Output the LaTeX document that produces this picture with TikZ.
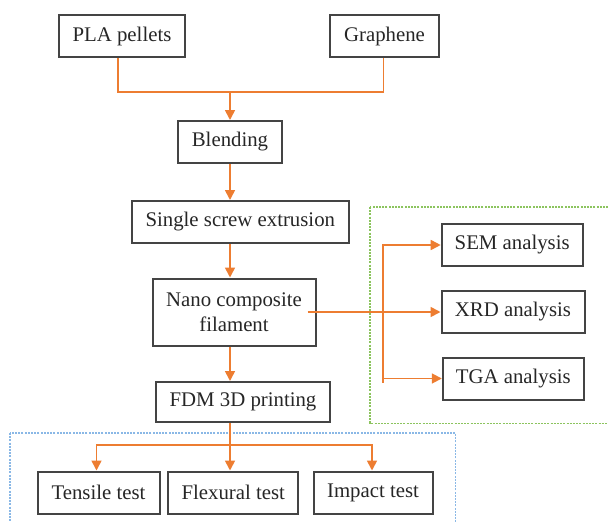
\documentclass[tikz,border=0pt]{standalone}
\usepackage{fontspec}
\setmainfont{Liberation Serif}
\usetikzlibrary{arrows.meta,calc}
\definecolor{flowor}{HTML}{ED7D31}
\definecolor{boxgr}{HTML}{444444}
\definecolor{grnframe}{HTML}{8CC45E}
\definecolor{bluframe}{HTML}{8AB8E6}
\begin{document}
\begin{tikzpicture}[x=1pt,y=-1pt,
    blk/.style={draw=boxgr,line width=2pt,inner sep=0pt,minimum height=42pt,
      font=\fontsize{20.8}{25}\selectfont,text=black!85},
    flow/.style={draw=flowor,line width=1.7pt},
    arr/.style={-{Triangle[length=10pt,width=10pt]}},
    frame/.style={line width=1.2pt,dash pattern=on 2pt off 1.2pt}]
  \useasboundingbox (0,0) rectangle (608,522);
  \clip (0,0) rectangle (608,522);
  % dotted frames
  \draw[frame,grnframe] (370,207) rectangle (620,423.3);
  \draw[frame,bluframe] (10,433) rectangle (455.7,530);
  % process boxes
  \node[blk,minimum width=126pt] (pla) at (122,36) {PLA pellets};
  \node[blk,minimum width=109pt] (gra) at (384.5,36) {Graphene};
  \node[blk,minimum width=104pt] (blend) at (230,142) {Blending};
  \node[blk,minimum width=217pt] (sse) at (240.3,222) {Single screw extrusion};
  \node[blk,minimum width=163pt,minimum height=67pt,align=center] (ncf) at (234,312) {Nano composite\\filament};
  \node[blk,minimum width=174pt,minimum height=40pt] (fdm) at (243,402) {FDM 3D printing};
  \node[blk,minimum width=141pt] (sem) at (512.2,245) {SEM analysis};
  \node[blk,minimum width=143pt] (xrd) at (513,312) {XRD analysis};
  \node[blk,minimum width=141pt] (tga) at (513.3,378.5) {TGA analysis};
  \node[blk,minimum width=122pt] (ten) at (98.5,492.5) {Tensile test};
  \node[blk,minimum width=130pt] (flx) at (233.3,492.5) {Flexural test};
  \node[blk,minimum width=119pt] (imp) at (373,492.5) {Impact test};
  % connectors
  \coordinate (join) at (230,92.3);
  \coordinate (trunk) at (230,0);
  \coordinate (tbus) at (230,444.7);
  \coordinate (abus) at (383,312);
  \draw[flow] ([xshift=-4pt]pla.south) |- (join) -| ([xshift=-1pt]gra.south);
  \draw[flow,arr] (join) -- (blend.north);
  \draw[flow,arr] (blend.south) -- (trunk |- sse.north);
  \draw[flow,arr] (trunk |- sse.south) -- (trunk |- ncf.north);
  \draw[flow,arr] (trunk |- ncf.south) -- (trunk |- fdm.north);
  \draw[flow,arr] (trunk |- fdm.south) -- (trunk |- flx.north);
  \draw[flow,arr] (tbus) -| ([xshift=-2pt]ten.north);
  \draw[flow,arr] (tbus) -| ([xshift=-1pt]imp.north);
  \draw[flow,arr] ([xshift=-9pt]ncf.east) -- (xrd.west);
  \draw[flow,arr] ($(abus |- tga.west)+(0,4)$) -- (abus |- sem.west) -- (sem.west);
  \draw[flow,arr] (abus |- tga.west) -- (tga.west);
\end{tikzpicture}
\end{document}
